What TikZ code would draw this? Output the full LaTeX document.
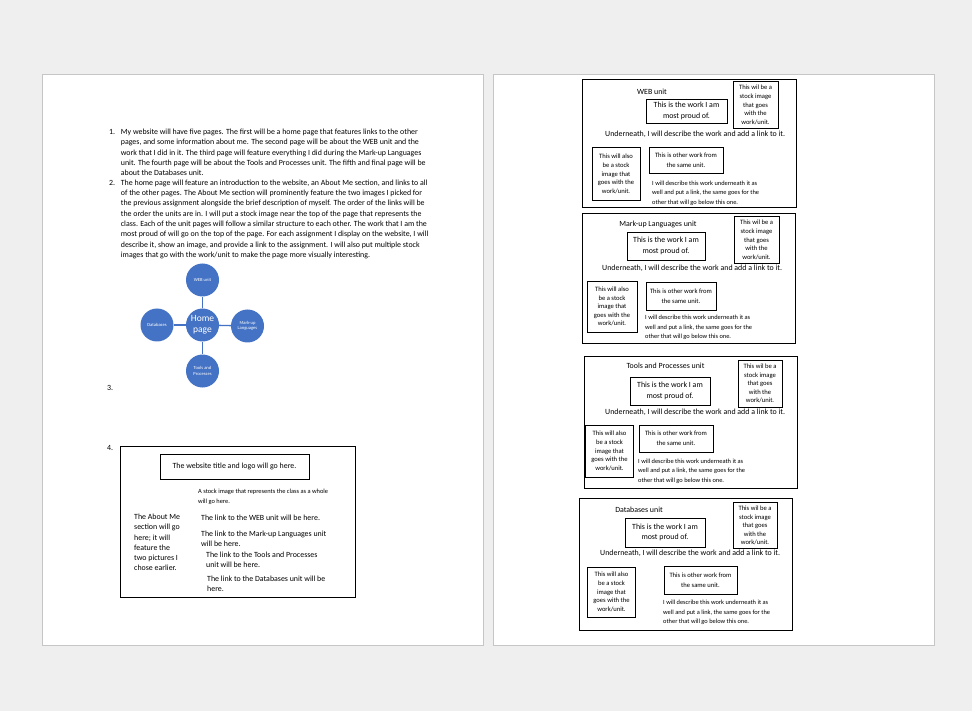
\documentclass[tikz,border=0pt]{standalone}
\usepackage{fontspec}
\setmainfont{Carlito}
\definecolor{bgc}{HTML}{EFEFEF}
\definecolor{pgb}{HTML}{C6C6C6}
\definecolor{sblue}{HTML}{4472C4}
\begin{document}
\begin{tikzpicture}[x=1pt,y=-1pt,
  pagebox/.style={draw=pgb, line width=1pt, fill=white, inner sep=0pt, anchor=north west},
  body/.style={inner sep=0pt, font=\fontsize{7.9}{10.3}\selectfont, align=left, anchor=west},
  smalltxt/.style={inner sep=0pt, font=\fontsize{6.4}{9.4}\selectfont, align=left, anchor=west},
  titletxt/.style={inner sep=0pt, font=\fontsize{7.9}{9}\selectfont},
  frame/.style={draw, line width=0.9pt, inner sep=0pt},
  proudbox/.style={draw, line width=0.9pt, inner sep=0pt, align=center, font=\fontsize{7.9}{10.3}\selectfont},
  stockbox/.style={draw, line width=0.9pt, inner sep=0pt, align=center, font=\fontsize{6.6}{8.6}\selectfont},
  otherbox/.style={draw, line width=0.9pt, inner sep=0pt, align=center, font=\fontsize{6.6}{9.6}\selectfont},
  circ/.style={circle, fill=sblue, minimum size=33pt, inner sep=0pt, text=white, align=center, font=\fontsize{4.6}{5.4}\selectfont},
  link/.style={sblue, line width=1.3pt}
]
\fill[bgc] (0,0) rectangle (972,711);
\useasboundingbox (0,0) rectangle (972,711);

% pages
\node[pagebox, minimum width=441pt, minimum height=571pt] (pageA) at (42,74) {};
\node[pagebox, minimum width=441pt, minimum height=571pt] (pageB) at (493,74) {};

% ---------- left page ----------
\node[body] (n1) at (109,131.7) {1.};
\node[body] (t1) at (120.7,152.3) {My website will have five pages. The first will be a home page that features links to the other\\
pages, and some information about me. The second page will be about the WEB unit and the\\
work that I did in it. The third page will feature everything I did during the Mark-up Languages\\
unit. The fourth page will be about the Tools and Processes unit. The fifth and final page will be\\
about the Databases unit.};
\node[body] (n2) at (109,183.2) {2.};
\node[body] (t2) at (120.7,219.2) {The home page will feature an introduction to the website, an About Me section, and links to all\\
of the other pages. The About Me section will prominently feature the two images I picked for\\
the previous assignment alongside the brief description of myself. The order of the links will be\\
the order the units are in. I will put a stock image near the top of the page that represents the\\
class. Each of the unit pages will follow a similar structure to each other. The work that I am the\\
most proud of will go on the top of the page. For each assignment I display on the website, I will\\
describe it, show an image, and provide a link to the assignment. I will also put multiple stock\\
images that go with the work/unit to make the page more visually interesting.};

% smartart
\node[circ] (web) at (202.5,280) {WEB unit};
\node[circ, font=\fontsize{9.5}{11}\selectfont] (home) at (202.5,325) {Home\\page};
\node[circ] (db) at (157,325) {Databases};
\node[circ] (mk) at (247.5,326) {Mark-up\\Languages};
\node[circ] (tp) at (202.5,371) {Tools and\\Processes};
\draw[link] (home) -- (web);
\draw[link] (home) -- (db);
\draw[link] (home) -- (mk);
\draw[link] (home) -- (tp);

\node[body] (n3) at (107,387.5) {3.};
\node[body] (n4) at (107,448) {4.};

% item 4 mockup
\node[frame, minimum width=235pt, minimum height=151pt] (mock) at (237.5,521.5) {};
\node[proudbox, minimum width=149pt, minimum height=25pt] (titlebox) at (234.5,466.5) {The website title and logo will go here.};
\node[smalltxt] (classimg) at (198,497) {A stock image that represents the class as a whole\\will go here.};
\node[body] (about) at (134,542.5) {The About Me\\section will go\\here; it will\\feature the\\two pictures I\\chose earlier.};
\node[body] (l1) at (201,517.5) {The link to the WEB unit will be here.};
\node[body] (l2) at (201,538.8) {The link to the Mark-up Languages unit\\will be here.};
\node[body] (l3) at (206,559.8) {The link to the Tools and Processes\\unit will be here.};
\node[body] (l4) at (207,583.8) {The link to the Databases unit will be\\here.};

% ---------- right page ----------
% WEB unit
\node[frame, anchor=north west, minimum width=214pt, minimum height=128pt] (ua) at (582,79) {};
\node[titletxt] (uat) at (652,92) {WEB unit};
\node[proudbox, minimum width=81pt, minimum height=24pt] (uap) at (686.5,111) {This is the work I am\\most proud of.};
\node[stockbox, minimum width=45pt, minimum height=47pt] (uas) at (755.5,105) {This wil be a\\stock image\\that goes\\with the\\work/unit.};
\node[body] (uau) at (605,134) {Underneath, I will describe the work and add a link to it.};
\node[stockbox, minimum width=48pt, minimum height=53pt] (ual) at (616,174) {This will also\\be a stock\\image that\\goes with the\\work/unit.};
\node[otherbox, minimum width=74pt, minimum height=26pt] (uao) at (686,160) {This is other work from\\the same unit.};
\node[smalltxt] (uad) at (652,193) {I will describe this work underneath it as\\well and put a link, the same goes for the\\other that will go below this one.};

% Mark-up Languages unit
\node[frame, anchor=north west, minimum width=213pt, minimum height=130pt] (ub) at (582,213) {};
\node[titletxt] (ubt) at (658,224) {Mark-up Languages unit};
\node[proudbox, minimum width=78pt, minimum height=28pt] (ubp) at (666,246) {This is the work I am\\most proud of.};
\node[stockbox, minimum width=45pt, minimum height=47pt] (ubs) at (756.5,240) {This wil be a\\stock image\\that goes\\with the\\work/unit.};
\node[body] (ubu) at (602,268) {Underneath, I will describe the work and add a link to it.};
\node[stockbox, minimum width=50pt, minimum height=51pt] (ubl) at (612,306.5) {This will also\\be a stock\\image that\\goes with the\\work/unit.};
\node[otherbox, minimum width=70pt, minimum height=28pt] (ubo) at (681,296) {This is other work from\\the same unit.};
\node[smalltxt] (ubd) at (645,327.5) {I will describe this work underneath it as\\well and put a link, the same goes for the\\other that will go below this one.};

% Tools and Processes unit
\node[frame, anchor=north west, minimum width=213pt, minimum height=132pt] (uc) at (584,356) {};
\node[titletxt] (uct) at (665.5,366) {Tools and Processes unit};
\node[proudbox, minimum width=80pt, minimum height=28pt] (ucp) at (670,391) {This is the work I am\\most proud of.};
\node[stockbox, minimum width=44pt, minimum height=47pt] (ucs) at (760,383.5) {This wil be a\\stock image\\that goes\\with the\\work/unit.};
\node[body] (ucu) at (605,412) {Underneath, I will describe the work and add a link to it.};
\node[stockbox, minimum width=48pt, minimum height=52pt] (ucl) at (609.5,451) {This will also\\be a stock\\image that\\goes with the\\work/unit.};
\node[otherbox, minimum width=74pt, minimum height=27pt] (uco) at (676,438.5) {This is other work from\\the same unit.};
\node[smalltxt] (ucd) at (638,471) {I will describe this work underneath it as\\well and put a link, the same goes for the\\other that will go below this one.};

% Databases unit
\node[frame, anchor=north west, minimum width=213pt, minimum height=132pt] (ud) at (579,498) {};
\node[titletxt] (udt) at (639,510) {Databases unit};
\node[proudbox, minimum width=80pt, minimum height=29pt] (udp) at (665,532.5) {This is the work I am\\most proud of.};
\node[stockbox, minimum width=44pt, minimum height=46pt] (uds) at (755,525.5) {This wil be a\\stock image\\that goes\\with the\\work/unit.};
\node[body] (udu) at (600,553) {Underneath, I will describe the work and add a link to it.};
\node[stockbox, minimum width=48pt, minimum height=50pt] (udl) at (611.5,592) {This will also\\be a stock\\image that\\goes with the\\work/unit.};
\node[otherbox, minimum width=73pt, minimum height=28pt] (udo) at (700.5,580) {This is other work from\\the same unit.};
\node[smalltxt] (udd) at (663,612.5) {I will describe this work underneath it as\\well and put a link, the same goes for the\\other that will go below this one.};
\end{tikzpicture}
\end{document}
